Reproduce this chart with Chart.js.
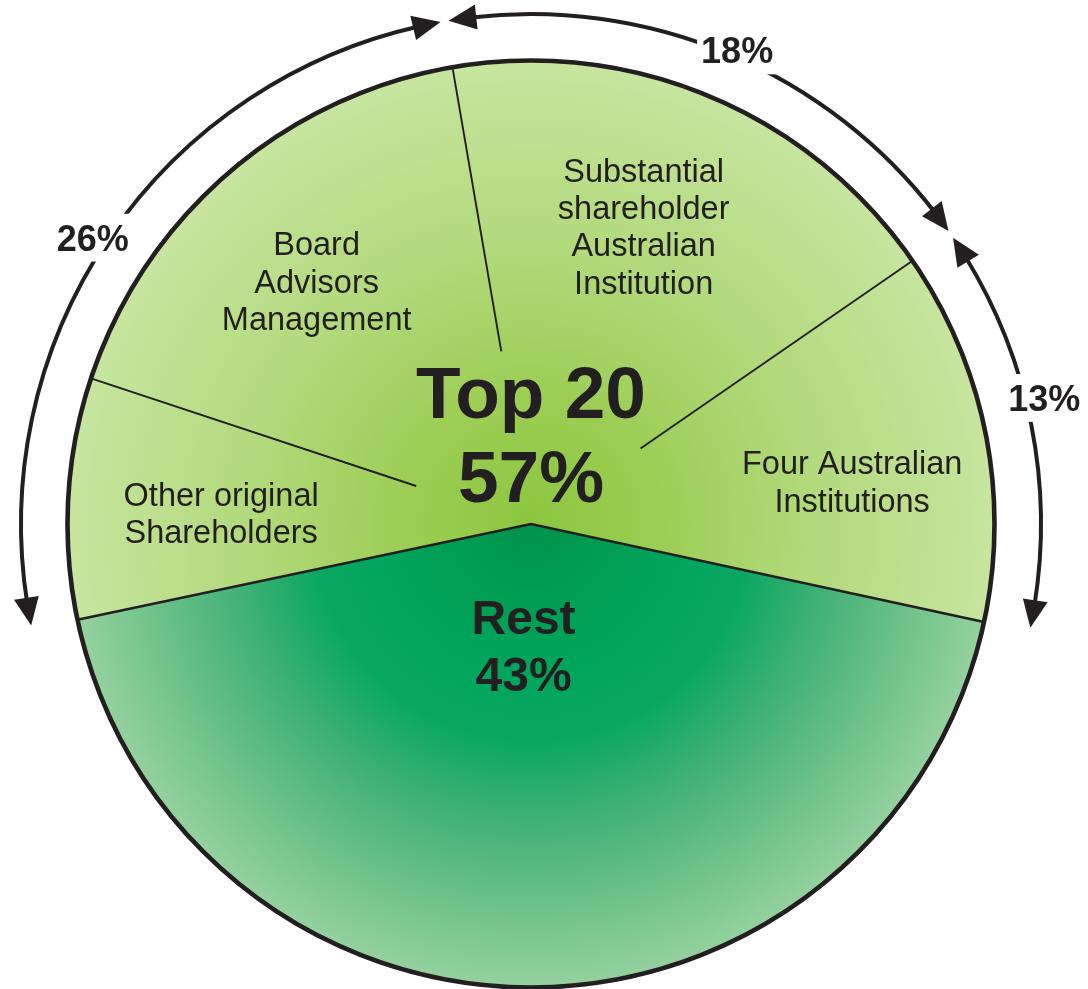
<!DOCTYPE html>
<html>
<head>
<meta charset="utf-8">
<script src="https://cdn.jsdelivr.net/npm/chart.js@4/dist/chart.umd.min.js"></script>
<style>
html,body{margin:0;padding:0;background:#ffffff;}
#c{display:block;}
</style>
</head>
<body>
<canvas id="c" width="1088" height="989"></canvas>
<script>
// ---------------- data ----------------
const categories = ['Rest', 'Other original Shareholders', 'Board Advisors Management',
  'Substantial shareholder Australian Institution', 'Four Australian Institutions'];
const shares = [43.3, 8.4, 17.2, 18.1, 13.0];
const sliceLabelLines = [
  null,
  ['Other original', 'Shareholders'],
  ['Board', 'Advisors', 'Management'],
  ['Substantial', 'shareholder', 'Australian', 'Institution'],
  ['Four Australian', 'Institutions']
];
const groupLabels = ['26%', '18%', '13%'];
const groupMembers = [[1, 2], [3], [4]];
const topTitle = ['Top 20', '57%'];
const restTitle = ['Rest', '43%'];

// ---------------- style ----------------
const INK = '#231f20';
const FONT = '"Liberation Sans", Arial, Helvetica, sans-serif';
const topStops = [[0, '#8cc63f'], [0.25, '#9acd52'], [0.6, '#b2d97b'], [1, '#c7e59f']];
const restStops = [[0, '#00924a'], [0.15, '#009d52'], [0.32, '#00a55d'], [0.47, '#0aa763'],
                   [0.64, '#40b176'], [0.83, '#6ec289'], [1, '#95d19e']];
const dividerInner = [0.261, 0.378, 0.287];           // inner start of dividers (fraction of R)
const sliceLabelPolar = [null, [-1.1, 0.669], [-0.7, 0.699], [-2.1, 0.687], [3.65, 0.699]]; // [deg nudge, r frac]
const pctNudge = [-1.0, 0.7, -2.6];                    // deg
const pctROff = [60, 53, 65];                          // px beyond pie
const arrowROff = 46.5;

function radial(stops, fallback) {
  return (ctx) => {
    const ch = ctx.chart, a = ch.chartArea;
    if (!a) return fallback;
    const cx = (a.left + a.right) / 2, cy = (a.top + a.bottom) / 2;
    const R = Math.min(a.right - a.left, a.bottom - a.top) / 2;
    const g = ch.ctx.createRadialGradient(cx, cy, 0, cx, cy, R);
    stops.forEach(([o, c]) => g.addColorStop(o, c));
    return g;
  };
}
const topFill = radial(topStops, '#b2d97b');
const restFill = radial(restStops, '#3db075');
const sliceFill = (ctx) => ctx.dataIndex === 0 ? restFill(ctx) : topFill(ctx);

const overlay = {
  id: 'overlay',
  afterDatasetsDraw(chart) {
    const arcs = chart.getDatasetMeta(0).data;
    const cx = arcs[0].x, cy = arcs[0].y, R = arcs[0].outerRadius;
    const c = chart.ctx;
    const deg = Math.PI / 180;
    const P = (a, r) => [cx + r * Math.cos(a), cy + r * Math.sin(a)];
    c.save();
    c.strokeStyle = INK; c.fillStyle = INK;

    // Rest boundary
    c.lineWidth = 2.6; c.lineJoin = 'miter';
    c.beginPath();
    c.moveTo(...P(arcs[0].startAngle, R));
    c.lineTo(cx, cy);
    c.lineTo(...P(arcs[0].endAngle, R));
    c.stroke();

    // dividers inside Top 20
    c.lineWidth = 1.9;
    for (let i = 1; i < arcs.length - 1; i++) {
      const a = arcs[i].endAngle;
      c.beginPath();
      c.moveTo(...P(a, dividerInner[i - 1] * R));
      c.lineTo(...P(a, R));
      c.stroke();
    }

    // outline
    c.lineWidth = 4.6;
    c.beginPath(); c.arc(cx, cy, R, 0, Math.PI * 2); c.stroke();

    // arrow arcs
    const rA = R + arrowROff, L = 28, W = 12.5, dA = L / rA, gap = 0.45 * deg;
    const head = (a, dir) => {
      const ab = a - dir * dA;
      c.beginPath();
      c.moveTo(...P(a, rA));
      c.lineTo(...P(ab, rA + W));
      c.lineTo(...P(ab, rA - W));
      c.closePath(); c.fill();
    };
    c.lineWidth = 4;
    groupMembers.forEach((m) => {
      const a0 = arcs[m[0]].startAngle + gap;
      const a1 = arcs[m[m.length - 1]].endAngle - gap;
      c.beginPath(); c.arc(cx, cy, rA, a0 + dA * 0.8, a1 - dA * 0.8); c.stroke();
      head(a1, 1); head(a0, -1);
    });

    // group percentage labels
    c.font = 'bold 36px ' + FONT;
    c.textAlign = 'center'; c.textBaseline = 'alphabetic';
    const capP = 36 * 0.716;
    groupLabels.forEach((t, gi) => {
      const m = groupMembers[gi];
      const mid = (arcs[m[0]].startAngle + arcs[m[m.length - 1]].endAngle) / 2 + pctNudge[gi] * deg;
      const [x, y] = P(mid, R + pctROff[gi]);
      const w = c.measureText(t).width;
      c.fillStyle = '#ffffff';
      c.fillRect(x - w / 2 - 4, y - capP / 2 - 11, w + 8, capP + 22);
      c.fillStyle = INK;
      c.fillText(t, x, y + capP / 2);
    });

    // slice labels
    const fs = 32.5, lh = 37.3, capS = fs * 0.716;
    c.font = fs + 'px ' + FONT;
    sliceLabelLines.forEach((lines, i) => {
      if (!lines) return;
      const mid = (arcs[i].startAngle + arcs[i].endAngle) / 2 + sliceLabelPolar[i][0] * deg;
      const [x, y] = P(mid, sliceLabelPolar[i][1] * R);
      const h = capS + (lines.length - 1) * lh;
      let b = y - h / 2 + capS;
      lines.forEach((ln) => { c.fillText(ln, x, b); b += lh; });
    });

    // center titles
    c.font = 'bold 73px ' + FONT;
    c.fillText(topTitle[0], cx, cy - 0.2285 * R);
    c.fillText(topTitle[1], cx, cy - 0.0474 * R);
    c.font = 'bold 48px ' + FONT;
    c.fillText(restTitle[0], cx - 0.016 * R, cy + 0.237 * R);
    c.fillText(restTitle[1], cx - 0.016 * R, cy + 0.361 * R);

    c.restore();
  }
};

new Chart(document.getElementById('c'), {
  type: 'pie',
  data: {
    labels: categories,
    datasets: [{
      data: shares,
      backgroundColor: sliceFill,
      borderColor: sliceFill,
      borderWidth: 1,
      hoverOffset: 0
    }]
  },
  options: {
    responsive: false,
    animation: false,
    events: [],
    rotation: 102.2,
    layout: { padding: { top: 60, bottom: 1, left: 67, right: 93 } },
    plugins: { legend: { display: false }, tooltip: { enabled: false } }
  },
  plugins: [overlay]
});
</script>
</body>
</html>
